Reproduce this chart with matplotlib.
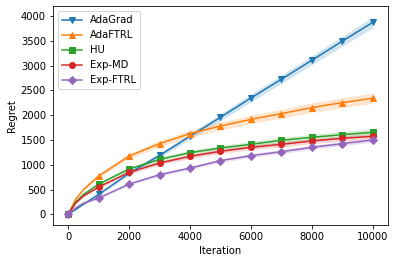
import matplotlib
matplotlib.use('Agg')
import matplotlib.pyplot as plt
import numpy as np

# iterations (markers drawn only every 1000)
iters = [0, 250, 500, 1000, 2000, 3000, 4000, 5000, 6000, 7000, 8000, 9000, 10000]

adagrad = [0, 100, 205, 403, 827, 1190, 1573, 1957, 2346, 2723, 3106, 3490, 3870]
adaftrl = [0, 310, 500, 773, 1176, 1426, 1628, 1781, 1916, 2031, 2152, 2253, 2340]
hu = [0, 250, 400, 611, 914, 1109, 1244, 1338, 1412, 1493, 1553, 1607, 1654]
exp_md = [0, 230, 370, 551, 847, 1035, 1170, 1271, 1351, 1412, 1479, 1533, 1573]
exp_ftrl = [0, 130, 225, 329, 611, 800, 934, 1083, 1184, 1264, 1351, 1426, 1499]

# half width of the shaded band
adagrad_sd = [0, 10, 15, 25, 40, 50, 60, 70, 80, 85, 90, 100, 110]
adaftrl_sd = [0, 20, 30, 40, 55, 65, 75, 80, 85, 90, 95, 100, 105]
hu_sd = [0, 15, 20, 30, 40, 45, 50, 55, 58, 60, 62, 65, 68]
exp_md_sd = [0, 12, 18, 25, 32, 38, 42, 45, 48, 50, 52, 54, 55]
exp_ftrl_sd = [0, 10, 14, 20, 25, 28, 32, 35, 37, 39, 40, 42, 44]

series = [
    ('AdaGrad', adagrad, adagrad_sd, 'v'),
    ('AdaFTRL', adaftrl, adaftrl_sd, '^'),
    ('HU', hu, hu_sd, 's'),
    ('Exp-MD', exp_md, exp_md_sd, 'o'),
    ('Exp-FTRL', exp_ftrl, exp_ftrl_sd, 'D'),
]
colors = ['#1f77b4', '#ff7f0e', '#2ca02c', '#d62728', '#9467bd']

fig = plt.figure(figsize=(395 / 72, 262 / 72), dpi=72)
ax = fig.add_axes([0.134, 0.141, 0.848, 0.836])

x = np.array(iters)
marks = [i for i, v in enumerate(iters) if v % 1000 == 0]
for (name, y, sd, m), c in zip(series, colors):
    y = np.array(y)
    sd = np.array(sd)
    ax.fill_between(x, y - sd, y + sd, color=c, alpha=0.2, lw=0)
    ax.plot(x, y, color=c, marker=m, markevery=marks, markersize=6, label=name)

ax.set_xlim(-500, 10500)
ax.set_ylim(-215, 4200)
ax.set_xlabel('Iteration')
ax.set_ylabel('Regret')
ax.legend(loc='upper left')

fig.savefig('out.png', dpi=72)
